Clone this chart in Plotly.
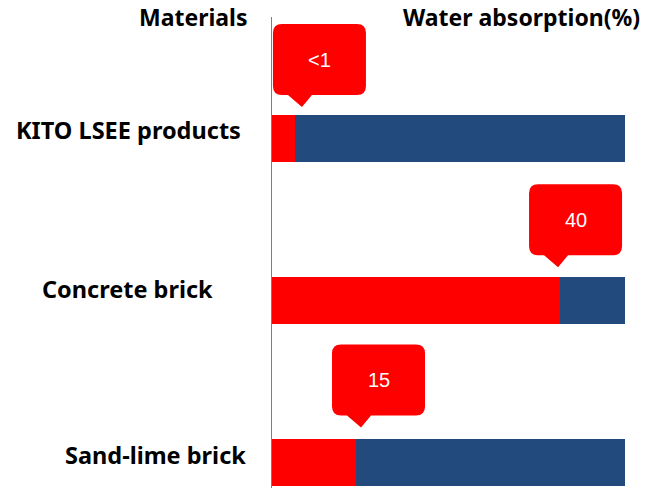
import plotly.graph_objects as go

# ---- data ----
materials = ["KITO LSEE products", "Concrete brick", "Sand-lime brick"]
value_labels = ["<1", "40", "15"]
red_lengths = [6.5, 81.6, 23.8]      # drawn length of the red segment (scale total = 100)
scale_total = 100
y_pos = [2, 1, 0]

blue_lengths = [scale_total - r for r in red_lengths]

RED = "#ff0000"
BLUE = "#224a7c"
LABEL_FONT = dict(family="Noto Sans, Open Sans, DejaVu Sans", size=23.5, color="#000000")
HEAD_FONT = dict(family="Noto Sans, Open Sans, DejaVu Sans", size=23, color="#000000")
CALL_FONT = dict(family="Liberation Sans, Arial", size=20, color="#ffffff")

fig = go.Figure()
fig.add_trace(go.Bar(y=y_pos, x=red_lengths, orientation="h", marker=dict(color=RED, line=dict(width=0)),
                     width=0.29, hoverinfo="skip", showlegend=False))
fig.add_trace(go.Bar(y=y_pos, x=blue_lengths, orientation="h", marker=dict(color=BLUE, line=dict(width=0)),
                     width=0.29, hoverinfo="skip", showlegend=False))

# callout styling (pixel offsets of the pointer tip relative to the red segment end / bar center)
tip_dx = [7, -2, 5]
tip_dy = [31, 33, 35]
BW, BH, R = 93, 71, 9


def callout_path(tx, ty):
    left, right = tx - 29, tx + 64
    bottom = ty + 12
    top = bottom + BH
    return (f"M{left+R},{top} L{right-R},{top} Q{right},{top} {right},{top-R} "
            f"L{right},{bottom+R} Q{right},{bottom} {right-R},{bottom} "
            f"L{tx+10},{bottom} L{tx},{ty} L{tx-14},{bottom} "
            f"L{left+R},{bottom} Q{left},{bottom} {left},{bottom+R} "
            f"L{left},{top-R} Q{left},{top} {left+R},{top} Z")


shapes = []
annotations = []
for i in range(len(materials)):
    tx, ty = tip_dx[i], tip_dy[i]
    shapes.append(dict(type="path", xref="x", yref="y", xsizemode="pixel", ysizemode="pixel",
                       xanchor=red_lengths[i], yanchor=y_pos[i], path=callout_path(tx, ty),
                       fillcolor=RED, line=dict(width=0), layer="above"))
    cx = tx - 29 + BW / 2
    cy = ty + 12 + BH / 2
    annotations.append(dict(x=red_lengths[i], y=y_pos[i], xref="x", yref="y", text=value_labels[i],
                            showarrow=False, xshift=cx, yshift=cy, font=CALL_FONT,
                            xanchor="center", yanchor="middle"))

# category labels
label_dx = [-144, -145, -117]
label_dy = [8, 11, 8]
for i, m in enumerate(materials):
    annotations.append(dict(x=0, y=y_pos[i], xref="paper", yref="y", text=f"<b>{m}</b>",
                            showarrow=False, xshift=label_dx[i], yshift=label_dy[i],
                            xanchor="center", yanchor="middle", font=LABEL_FONT))

# headers
annotations.append(dict(x=0, y=1, xref="paper", yref="paper", text="<b>Materials</b>", showarrow=False,
                        xshift=-79, yshift=0, xanchor="center", yanchor="middle", font=HEAD_FONT))
annotations.append(dict(x=0, y=1, xref="paper", yref="paper", text="<b>Water absorption(%)</b>",
                        showarrow=False, xshift=249, yshift=0, xanchor="center", yanchor="middle",
                        font=HEAD_FONT))

fig.update_layout(
    barmode="stack",
    width=647, height=488,
    margin=dict(l=272, r=22, t=17, b=0),
    paper_bgcolor="white", plot_bgcolor="white",
    xaxis=dict(range=[0, scale_total], visible=False, fixedrange=True),
    yaxis=dict(range=[-0.157, 2.746], showticklabels=False, showgrid=False, zeroline=False,
               showline=True, linecolor="#4f86c6", linewidth=1, ticks="", fixedrange=True),
    shapes=shapes,
    annotations=annotations,
    bargap=0,
)

fig.write_html("out.html", config={"displayModeBar": False})

# remove the default page margin so the figure sits at the window origin
with open("out.html", "r", encoding="utf-8") as f:
    html = f.read()
html = html.replace("<head>", "<head><style>html,body{margin:0;padding:0;overflow:hidden;}</style>", 1)
with open("out.html", "w", encoding="utf-8") as f:
    f.write(html)
